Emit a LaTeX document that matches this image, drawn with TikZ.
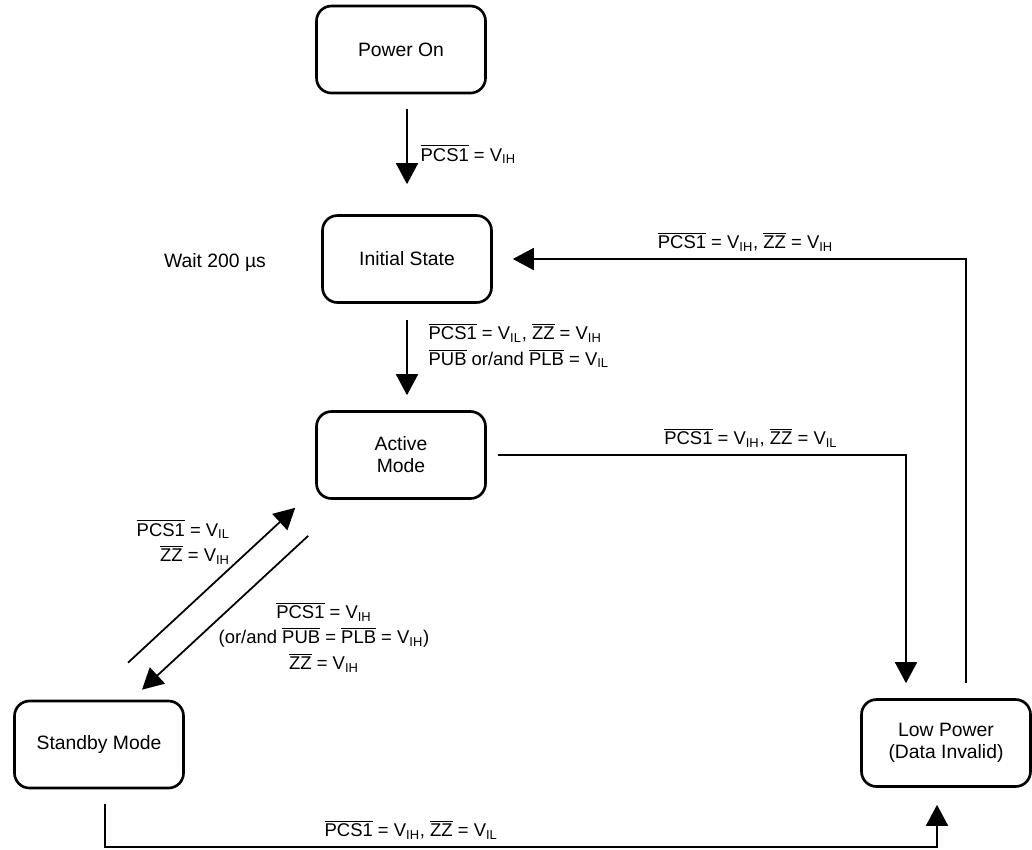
\documentclass[tikz,border=0pt]{standalone}
\usepackage{fontspec}
\setmainfont{Liberation Sans}
\usetikzlibrary{arrows.meta}
\newcommand{\ovl}[1]{$\overline{\mbox{#1}}$}
\newcommand{\vsub}[1]{V\textsubscript{#1}}

\begin{document}
\begin{tikzpicture}[x=0.2mm, y=-0.2mm, >={Triangle[length=4.2mm,width=4.4mm]}]
    \tikzset{state/.style = {shape=rectangle, draw, rounded corners=3mm, line width=1.5pt, minimum width=33.8mm, minimum height=17.4mm, align=center, font=\fontsize{11}{12.5}\selectfont}}
    \tikzset{edge/.style = {draw, line width=1pt}}
    \tikzset{cond/.style = {inner sep=1pt, font=\fontsize{10.5}{14.5}\selectfont}}

    \useasboundingbox (0,0) rectangle (1032,849);

    % states
    \node[state] (pwr)  at (401,49.5) {Power On};
    \node[state] (init) at (407,259)  {Initial State};
    \node[state] (act)  at (401,455)  {Active\\Mode};
    \node[state] (stby) at (99,744.5) {Standby Mode};
    \node[state] (lowp) at (946,743)  {Low Power\\(Data Invalid)};
    \node[cond, font=\fontsize{11}{12}\selectfont] (wait) at (215,262) {Wait 200 µs};

    % transitions
    \draw [->,edge,shorten <=3mm,shorten >=6mm] (init.north |- pwr.south) -- node[cond, midway, right, xshift=2.2mm]{\ovl{PCS1} = \vsub{IH}} (init.north);
    \draw [->,edge,shorten <=3.2mm,shorten >=3mm] (init.south) -- node[cond, midway, right, align=left, xshift=3.8mm, yshift=2.3mm]{\ovl{PCS1} = \vsub{IL}, \ovl{ZZ} = \vsub{IH}\\\ovl{PUB} or/and \ovl{PLB} = \vsub{IL}} (init.south |- act.north);
    \draw [->,edge,shorten <=2.2mm] (act.east) -| node[cond, pos=0.315, above, yshift=1mm]{\ovl{PCS1} = \vsub{IH}, \ovl{ZZ} = \vsub{IL}} ([xshift=-8mm,yshift=3mm]lowp.north);
    \draw [->,edge,shorten >=4mm] ([xshift=4mm,yshift=3mm]lowp.north) |- node[cond, pos=0.733, above, yshift=1mm]{\ovl{PCS1} = \vsub{IH}, \ovl{ZZ} = \vsub{IH}} (init.east);
    \draw [->,edge] ([xshift=1.2mm,yshift=-3mm]stby.south) -- ++(0,43) -| node[cond, pos=0.184, above, yshift=1mm]{\ovl{PCS1} = \vsub{IH}, \ovl{ZZ} = \vsub{IL}} ([xshift=-1.8mm,yshift=-3.4mm]lowp.south);
    \draw [->,edge] ([xshift=5.8mm,yshift=7.4mm]stby.north) -- ([xshift=-4mm,yshift=-1.6mm]act.south west);
    \draw [->,edge] ([xshift=-1.4mm,yshift=-7.2mm]act.south west) -- ([xshift=8.6mm,yshift=2mm]stby.north);

    % diagonal conditions
    \node[cond, align=right, anchor=east] (up) at (232,542) {\ovl{PCS1} = \vsub{IL}\\\ovl{ZZ} = \vsub{IH}};
    \node[cond, align=center] (down) at (324,637) {\ovl{PCS1} = \vsub{IH}\\(or/and \ovl{PUB} = \ovl{PLB} = \vsub{IH})\\\ovl{ZZ} = \vsub{IH}};
\end{tikzpicture}
\end{document}
